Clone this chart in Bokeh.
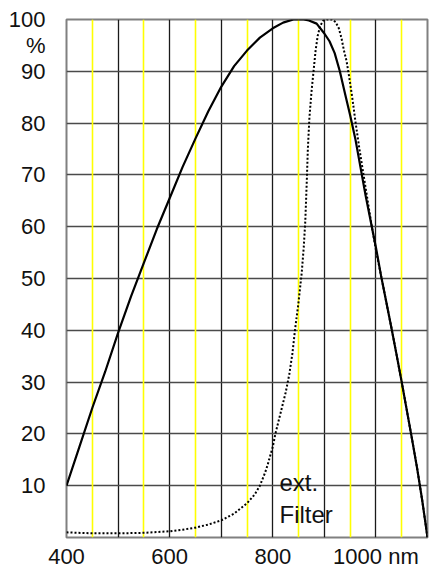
from bokeh.plotting import figure
from bokeh.models import Range1d, FixedTicker, Grid, Label
from bokeh.embed import file_html
from bokeh.resources import INLINE

# Sensor relative spectral sensitivity (solid line)
sensor_nm = [400, 425, 450, 475, 500, 525, 550, 575, 600, 625, 650, 675, 700, 725, 750, 775,
             800, 820, 840, 860, 870, 885, 900, 910, 920, 930, 940, 950, 960, 970, 980, 990,
             1000, 1010, 1020, 1030, 1040, 1050, 1060, 1070, 1080, 1090, 1100]
sensor_pct = [10, 17.5, 25, 32, 39.5, 46.5, 53, 59.5, 65.5, 71.5, 77, 82.3, 87, 91, 94, 96.5,
              98.3, 99.4, 100, 100, 99.8, 99.2, 97.3, 95.8, 93.5, 90, 85.7, 81.5, 77, 71.5, 66, 61,
              56, 50.5, 45.5, 40.5, 35.3, 30, 24.5, 19, 13.3, 7, 0]

# External filter transmission (dotted line)
filter_nm = [400, 450, 500, 550, 600, 625, 650, 675, 700, 725, 750, 765, 775, 785, 790, 795,
             800, 805, 815, 825, 832, 838, 843, 850, 856, 860, 863, 866, 868, 871, 875, 879,
             883, 887, 892, 898, 905, 915, 922, 928, 933, 938, 943, 948, 954, 960, 968, 976,
             984, 992, 1000, 1010, 1020, 1030, 1040, 1050, 1060, 1070, 1080, 1090, 1100]
filter_pct = [1.0, 0.8, 0.8, 0.9, 1.2, 1.5, 1.9, 2.5, 3.3, 4.6, 6.6, 8.3, 10, 12.5, 14, 15.8,
              17.5, 20, 24, 28, 31.5, 35.5, 40, 45.5, 51, 56, 61, 69, 75, 81, 86, 90,
              94, 96.8, 98.8, 99.8, 100, 100, 99.5, 98.3, 96.5, 94, 92, 89, 85, 80.5, 75, 70,
              65, 60, 55.5, 50.5, 45.5, 40.5, 35.3, 30, 24.5, 19, 13.3, 7, 0]

x_ticks = [400, 600, 800, 1000]
x_tick_labels = {400: "400", 600: "600", 800: "800", 1000: "1000 nm"}
y_ticks = [10, 20, 30, 40, 50, 60, 70, 80, 90, 95, 100]
y_tick_labels = {95: "%"}
black_grid = [400, 500, 600, 700, 800, 900, 1000, 1100]
yellow_grid = [450, 550, 650, 750, 850, 950, 1050]
h_grid = [0, 10, 20, 30, 40, 50, 60, 70, 80, 90, 100]

FONT = "Liberation Sans"

p = figure(width=434, height=571, x_range=Range1d(400, 1100), y_range=Range1d(0, 100),
           output_backend="svg", toolbar_location=None,
           min_border_left=66, min_border_right=7, min_border_top=19, min_border_bottom=22)
p.background_fill_color = "white"
p.border_fill_color = "white"
p.outline_line_color = "#808080"
p.outline_line_width = 2

# axes
p.xaxis.ticker = FixedTicker(ticks=x_ticks)
p.xaxis.major_label_overrides = x_tick_labels
p.yaxis.ticker = FixedTicker(ticks=y_ticks)
p.yaxis.major_label_overrides = y_tick_labels
for ax in (p.xaxis, p.yaxis):
    ax.axis_line_color = None
    ax.major_tick_line_color = None
    ax.minor_tick_line_color = None
    ax.major_tick_in = 0
    ax.major_tick_out = 0
    ax.major_label_text_font = FONT
    ax.major_label_text_font_size = "22px"
    ax.major_label_text_color = "#111111"
p.xaxis.major_label_standoff = 6
p.yaxis.major_label_standoff = 21

# grids
p.xgrid.ticker = FixedTicker(ticks=black_grid)
p.xgrid.grid_line_color = "#1a1a1a"
p.xgrid.grid_line_width = 1.3
p.ygrid.ticker = FixedTicker(ticks=h_grid)
p.ygrid.grid_line_color = "#4a4a4a"
p.ygrid.grid_line_width = 1.5
yg = Grid(dimension=0, ticker=FixedTicker(ticks=yellow_grid),
          grid_line_color="#ffff00", grid_line_width=1.6)
p.add_layout(yg)

# curves
p.line(filter_nm, filter_pct, line_color="black", line_width=2, line_dash="2 2")
p.line(sensor_nm, sensor_pct, line_color="black", line_width=2.2)

# texts
p.add_layout(Label(x=813, y=10.7, text="ext.", text_align="left", text_baseline="alphabetic",
                   text_font=FONT, text_font_size="24px", text_color="#111111"))
p.add_layout(Label(x=813, y=4.5, text="Filter", text_align="left", text_baseline="alphabetic",
                   text_font=FONT, text_font_size="24px", text_color="#111111"))

open("out.html", "w").write(file_html(p, INLINE))
